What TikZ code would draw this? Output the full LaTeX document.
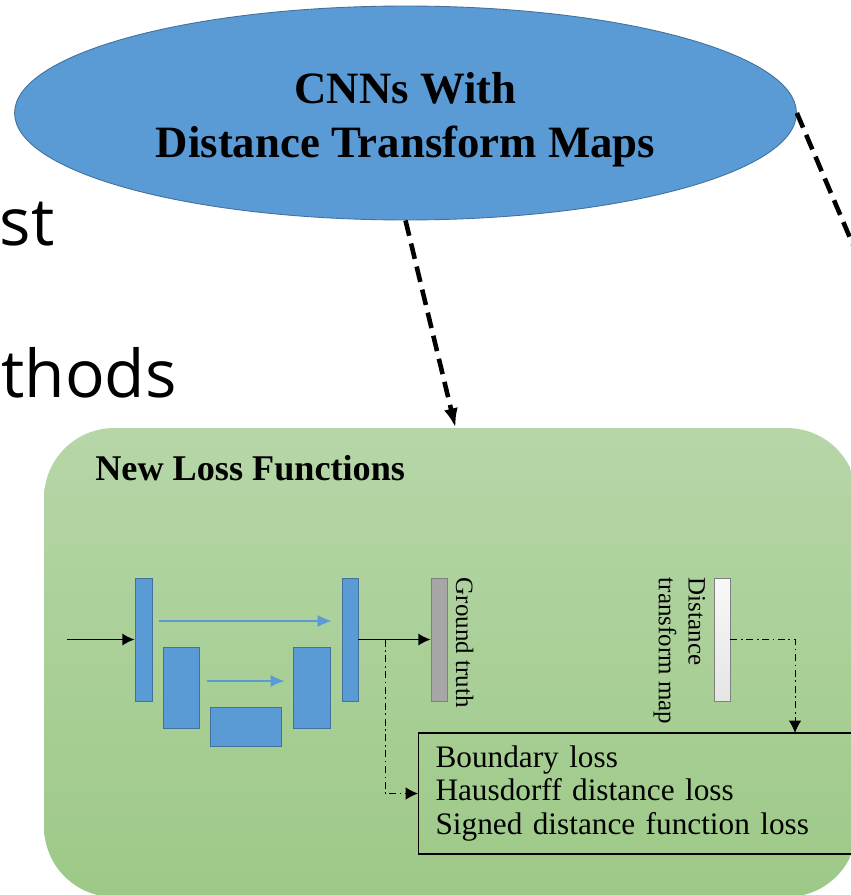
\documentclass[tikz,border=0pt]{standalone}
\usepackage{fontspec}
\setmainfont{Liberation Serif}
\newfontfamily\slidefont{Open Sans}
\usetikzlibrary{shapes.geometric,arrows.meta}
\definecolor{capblue}{RGB}{91,155,213}
\definecolor{capedge}{RGB}{65,113,156}
\definecolor{paneltop}{RGB}{182,214,168}
\definecolor{panelbot}{RGB}{157,201,135}
\definecolor{gtgray}{RGB}{166,166,166}
\begin{document}
\begin{tikzpicture}[x=0.02cm, y=-0.02cm,
    layer/.style={draw=capedge, line width=0.5pt, fill=capblue, inner sep=0pt},
    bar/.style={draw=gray, line width=0.5pt, inner sep=0pt, minimum width=0.32cm, minimum height=2.46cm},
    flow/.style={line width=0.9pt, -{Latex[length=7pt,width=7pt]}},
    skip/.style={capblue, line width=0.9pt, -{Latex[length=8pt,width=7pt]}},
    tap/.style={line width=0.5pt, dash pattern=on 4pt off 2pt on 1pt off 2pt, -{Latex[length=7pt,width=7pt]}},
    link/.style={line width=2.6pt, dash pattern=on 9pt off 4.5pt, -{Latex[length=11pt,width=8pt]}}]
  \useasboundingbox (0,0) rectangle (851,895);
  \clip (0,0) rectangle (851,895);
  % cut-off words on the left
  \node[anchor=base east, inner sep=0, font=\slidefont\fontsize{37.5}{40}\selectfont] (st) at (55,245) {st};
  \node[anchor=base east, inner sep=0, font=\slidefont\fontsize{37.5}{40}\selectfont] (thods) at (177,397) {thods};
  % top ellipse
  \node[ellipse, fill=capblue, draw=capedge, line width=0.5pt, minimum width=15.64cm, minimum height=4.28cm] (cnn) at (405.5,113) {};
  \node[align=center, font=\bfseries\fontsize{25.5}{30.7}\selectfont] (cnntext) at (405.5,120) {CNNs With\\Distance Transform Maps};
  % green panel
  \node[rounded corners=1.4cm, top color=paneltop, bottom color=panelbot, minimum width=16.26cm, minimum height=9.38cm] (panel) at (450.5,662.5) {};
  \node[anchor=base west, inner sep=0, font=\bfseries\fontsize{20.6}{24}\selectfont] (title) at (95,480) {New Loss Functions};
  \coordinate (offright) at (885,320);
  \draw[link] (cnn.south) -- ([xshift=0.1cm]panel.north);
  \draw[link] (cnn.east) -- (offright);
  % U-net blocks
  \foreach \name/\cx/\cy/\w/\h in {b1/143.5/639.5/0.34/2.46, b2/181/687.5/0.72/1.62,
      b3/245.5/726.5/1.42/0.78, b4/311.5/687.5/0.74/1.62, b5/350/639.5/0.32/2.46}
    \node[layer, minimum width=\w cm, minimum height=\h cm] (\name) at (\cx,\cy) {};
  \node[bar, fill=gtgray] (gt) at (439,639.5) {};
  \node[bar, top color=white!95!gray, bottom color=white!80!gray] (dt) at (722,639.5) {};
  \node[rotate=-90, anchor=south west, inner sep=0, font=\fontsize{14.2}{17}\selectfont] (gtlabel)
      at ([xshift=0.16cm]gt.north east) {Ground truth};
  \node[rotate=-90, anchor=north west, inner sep=0, align=left, font=\fontsize{14.2}{17}\selectfont] (dtlabel)
      at ([xshift=-0.16cm]dt.north west) {Distance\\transform map};
  \node[draw, line width=0.6pt, anchor=west, inner xsep=0.34cm, text width=8.6cm, minimum height=2.42cm,
      align=left, font=\fontsize{17.8}{19.3}\selectfont] (lossbox) at (418,793.5)
      {Boundary loss\\Hausdorff distance loss\\Signed distance function loss};
  % arrows
  \coordinate (input) at (67,639.5);
  \coordinate (split) at (385,639.5);
  \coordinate (dtdrop) at (795,733);
  \draw[flow] (input) -- (b1);
  \draw[flow] (b5) -- (gt);
  \draw[skip, shorten <=0.14cm, shorten >=0.2cm] ([yshift=0.37cm]b1.east) -- ([yshift=0.37cm]b5.west);
  \draw[skip, shorten <=0.16cm, shorten >=0.16cm] ([yshift=0.13cm]b2.east) -- ([yshift=0.13cm]b4.west);
  \draw[tap] (split) |- (lossbox.west);
  \draw[tap] (dt.east) -| (dtdrop);
\end{tikzpicture}
\end{document}
